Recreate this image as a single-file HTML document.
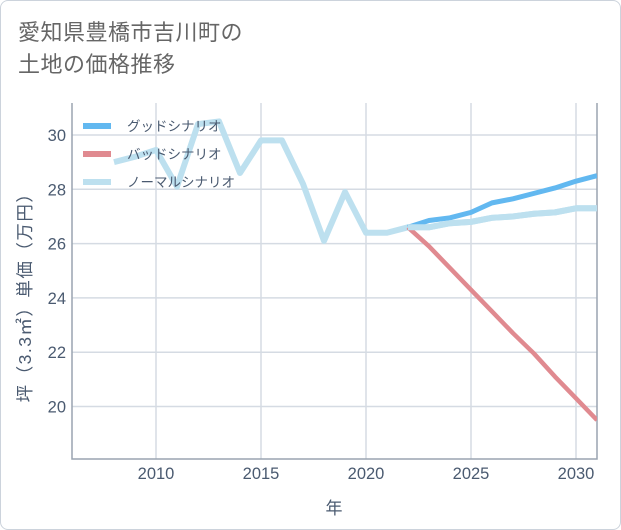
<!DOCTYPE html>
<html><head><meta charset="utf-8"><style>
body{margin:0;background:#fff;font-family:"Liberation Sans","Noto Sans CJK JP",sans-serif;}
#wrap{position:relative;width:619px;height:528px;border:1px solid #ccd3dc;border-radius:8px;overflow:hidden;background:#fff}
.title{position:absolute;left:17px;top:16px;font-size:22px;line-height:32px;color:#666;letter-spacing:0.5px}
</style></head><body>
<div id="wrap">
<div class="title">愛知県豊橋市吉川町の<br>土地の価格推移</div>
<svg id="chart" width="621" height="530" style="position:absolute;left:-1px;top:-1px"></svg>
</div>
<script>
const xTicks=[2010,2015,2020,2025,2030];
const yTicks=[20,22,24,26,28,30];
const normalYears=[2008,2009,2010,2011,2012,2013,2014,2015,2016,2017,2018,2019,2020,2021,2022,2023,2024,2025,2026,2027,2028,2029,2030,2031];
const normalVals=[29.0,29.2,29.45,28.1,30.4,30.5,28.6,29.8,29.8,28.2,26.1,27.9,26.4,26.4,26.6,26.6,26.75,26.8,26.95,27.0,27.1,27.15,27.3,27.3];
const futureYears=[2022,2023,2024,2025,2026,2027,2028,2029,2030,2031];
const goodVals=[26.6,26.85,26.95,27.15,27.5,27.65,27.85,28.05,28.3,28.5];
const badVals=[26.6,25.9,25.1,24.3,23.5,22.7,21.95,21.1,20.3,19.5];
const legendNames=["グッドシナリオ","バッドシナリオ","ノーマルシナリオ"];
const NS="http://www.w3.org/2000/svg";
const svg=document.getElementById('chart');
const L=72,R=597,T=103,B=459;
const x=y=>156+(y-2010)*21;
const yS=v=>135+(30-v)*27.15;
function mk(t,a){const e=document.createElementNS(NS,t);for(const k in a)e.setAttribute(k,a[k]);svg.appendChild(e);return e;}
const clip=mk('clipPath',{id:'pc'});const cr=document.createElementNS(NS,'rect');cr.setAttribute('x',L);cr.setAttribute('y',T);cr.setAttribute('width',R-L);cr.setAttribute('height',B-T);clip.appendChild(cr);
xTicks.forEach(t=>{const g=mk('line',{x1:x(t),x2:x(t),y1:T,y2:B,stroke:'#d5dbe3','stroke-width':1.5});

const l=mk('text',{x:x(t),y:479,'text-anchor':'middle','font-size':16.5,fill:'#4a5a70'});l.textContent=t;
});
yTicks.forEach(t=>{const g=mk('line',{x1:L,x2:R,y1:yS(t),y2:yS(t),stroke:'#d5dbe3','stroke-width':1.5});

const l=mk('text',{x:66,y:yS(t)+6,'text-anchor':'end','font-size':16.5,fill:'#4a5a70'});l.textContent=t;
});
const ax=mk('path',{d:`M${L},${T}V${B}H${R}V${T}`,fill:'none',stroke:'#9aa4b0','stroke-width':1.5});

function line(xs,vs,c,w,n){const p=mk('polyline',{points:xs.map((yy,i)=>x(yy)+','+yS(vs[i])).join(' '),fill:'none',stroke:c,'stroke-width':w,'stroke-linejoin':'round','clip-path':'url(#pc)'});
}
line(normalYears,normalVals,'#bde0ef',6,'normal-scenario-line');
line(futureYears,badVals,'#e08a90',4.5,'bad-scenario-line');
line(futureYears,goodVals,'#62b8f0',5,'good-scenario-line');
line(futureYears.slice(0,1).concat(normalYears.slice(15)),[normalVals[14]].concat(normalVals.slice(15)),'#bde0ef',6,'normal-scenario-line-future');
const lc=['#62b8f0','#e08a90','#bde0ef'];
legendNames.forEach((n,i)=>{const yy=126+i*28;
const s=mk('line',{x1:83,x2:111,y1:yy,y2:yy,stroke:lc[i],'stroke-width':6});

const t=mk('text',{x:127,y:yy+5,'font-size':13.5,fill:'#4a5a70'});t.textContent=n;
});
const xt=mk('text',{x:334,y:514,'text-anchor':'middle','font-size':17,fill:'#4a5a70'});xt.textContent='年';

const yt=mk('text',{x:0,y:0,'text-anchor':'middle','font-size':17.5,'letter-spacing':1.5,fill:'#4a5a70',transform:'translate(31,293) rotate(-90)'});yt.textContent='坪（3.3㎡）単価（万円）';

</script>
</body></html>
